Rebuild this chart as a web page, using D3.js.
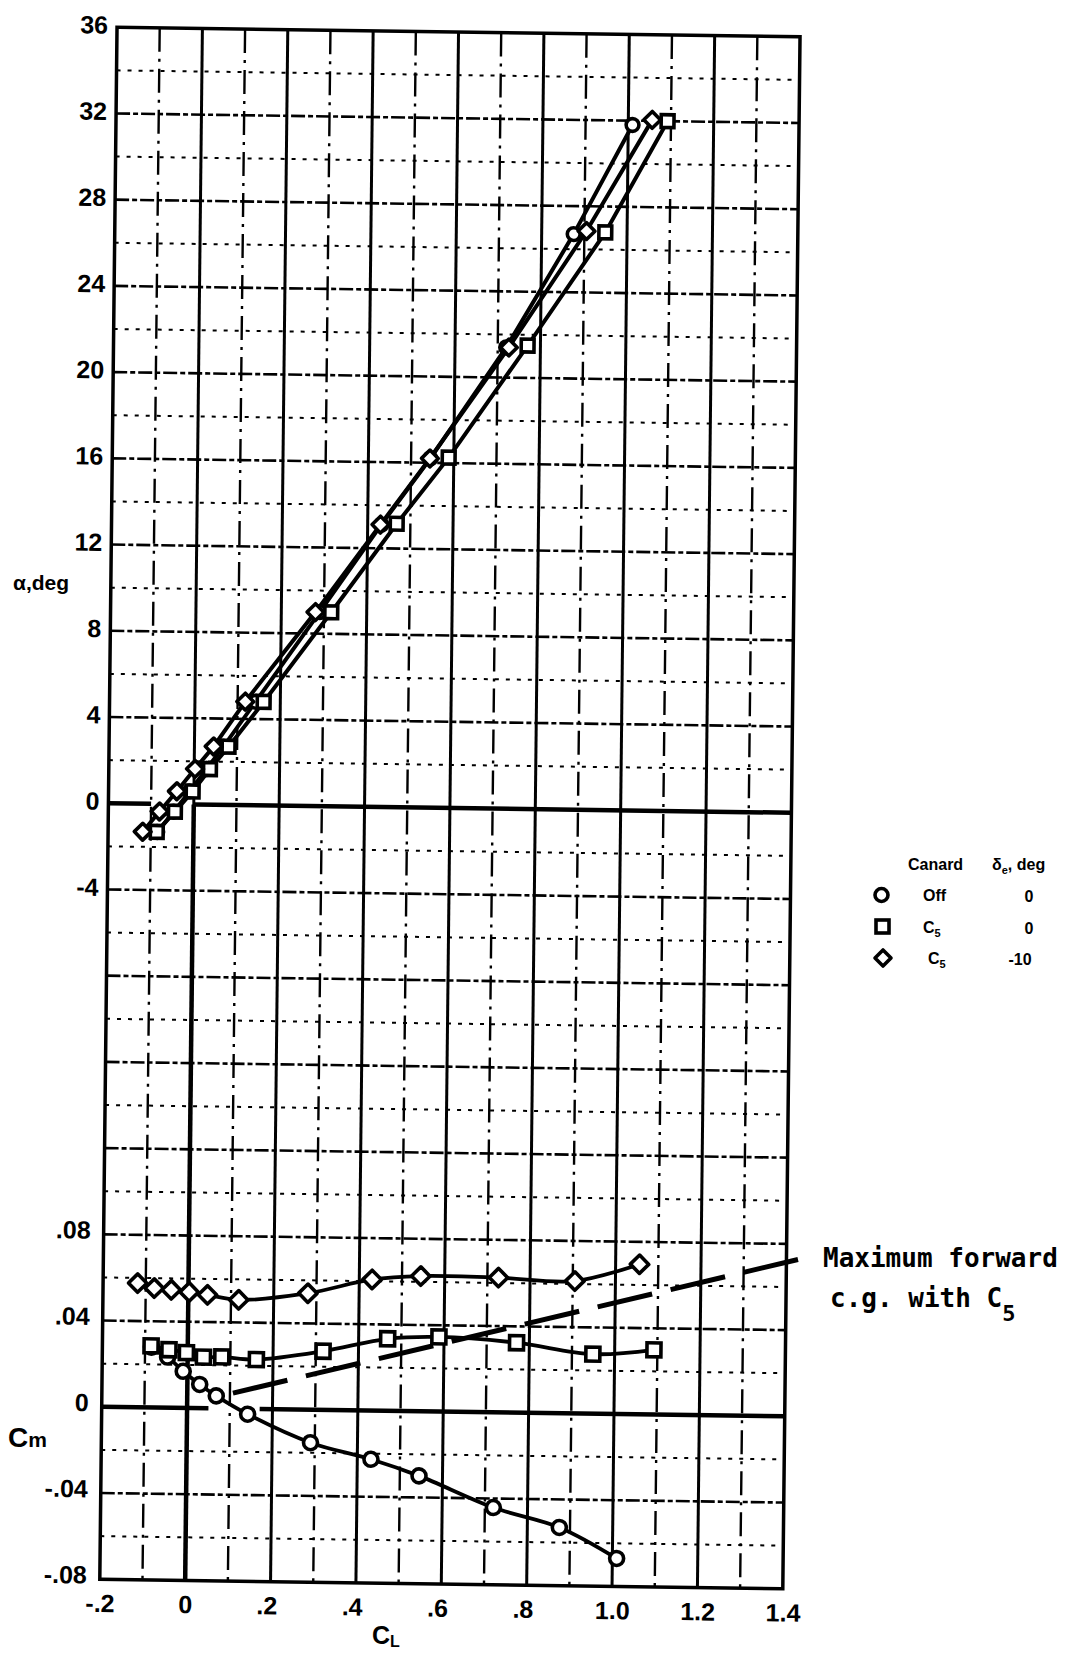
<!DOCTYPE html>
<html>
<head>
<meta charset="utf-8">
<script src="https://cdn.jsdelivr.net/npm/d3@7/dist/d3.min.js"></script>
<style>
html,body{margin:0;padding:0;background:#fff;}
svg{display:block;}
</style>
</head>
<body>
<svg id="chart" width="1068" height="1656" xmlns="http://www.w3.org/2000/svg"></svg>
<script>
// ---------------- data ----------------
// Canard off, delta_e = 0  (circles)
const offCL    = [-0.085, -0.047, -0.010, 0.029, 0.068, 0.142, 0.290, 0.432, 0.545, 0.720, 0.875, 1.010];
const offAlpha = [-1.3, -0.35, 0.6, 1.65, 2.7, 4.8, 9.0, 13.1, 16.2, 21.4, 26.7, 31.8];
const offCm    = [0.0280, 0.0235, 0.0170, 0.0110, 0.0058, -0.0025, -0.0153, -0.0226, -0.0300, -0.0442, -0.0530, -0.0670];
// Canard C5, delta_e = 0  (squares)
const c5CL     = [-0.086, -0.044, -0.003, 0.037, 0.080, 0.161, 0.317, 0.468, 0.588, 0.770, 0.949, 1.092];
const c5Alpha  = [-1.3, -0.35, 0.6, 1.65, 2.7, 4.8, 9.0, 13.15, 16.25, 21.5, 26.8, 32.0];
const c5Cm     = [0.0286, 0.0269, 0.0257, 0.0237, 0.0239, 0.0229, 0.0272, 0.0334, 0.0346, 0.0324, 0.0276, 0.0300];
// Canard C5, delta_e = -10  (diamonds)
const c5m10CL    = [-0.119, -0.080, -0.040, 0.002, 0.045, 0.118, 0.280, 0.430, 0.544, 0.726, 0.905, 1.056];
const c5m10Alpha = [-1.3, -0.35, 0.6, 1.65, 2.7, 4.8, 9.0, 13.1, 16.2, 21.4, 26.85, 32.05];
const c5m10Cm    = [0.0576, 0.0554, 0.0547, 0.0538, 0.0526, 0.0505, 0.0540, 0.0608, 0.0627, 0.0625, 0.0614, 0.0696];
// "Maximum forward c.g. with C5" line
const cgCL = [0.107, 1.450];
const cgCm = [0.0072, 0.0740];

const clTicks = [-0.2, 0, 0.2, 0.4, 0.6, 0.8, 1.0, 1.2, 1.4];
const clTickLabels = ["-.2", "0", ".2", ".4", ".6", ".8", "1.0", "1.2", "1.4"];
const alphaTicks = [36, 32, 28, 24, 20, 16, 12, 8, 4, 0, -4];
const alphaTickLabels = ["36", "32", "28", "24", "20", "16", "12", "8", "4", "0", "-4"];
const cmTicks = [0.08, 0.04, 0, -0.04, -0.08];
const cmTickLabels = [".08", ".04", "0", "-.04", "-.08"];

const legendShapes = ["circle", "square", "diamond"];
const legendCanard = ["Off", "C", "C"];
const legendCanardSub = ["", "5", "5"];
const legendDelta = ["0", "0", "-10"];

// ---------------- chart ----------------
const svg = d3.select("#chart");
svg.append("rect").attr("width", 1068).attr("height", 1656).attr("fill", "#fff");

const x  = d3.scaleLinear().domain([-0.2, 1.4]).range([108.5, 791.5]);
const yA = d3.scaleLinear().domain([-36, 36]).range([1584, 32]);
const yC = d3.scaleLinear().domain([-0.08, 0.64]).range([1584, 32]);

// slight skew of the scanned sheet
const g = svg.append("g").attr("transform", "matrix(1,0.014,-0.0111,1,8.88,-6.3)");

// grid
const grid = g.append("g");
const gridCL = d3.range(-1, 14).map(i => i / 10);
gridCL.forEach(v => {
  const major = Math.abs(Math.round(v * 10)) % 2 === 0;
  grid.append("line")
    .attr("x1", x(v)).attr("x2", x(v))
    .attr("y1", yA(36)).attr("y2", yA(-36))
    .attr("stroke", "#000")
    .attr("stroke-width", major ? 3 : 2.4)
    .attr("stroke-dasharray", major ? null : "24 7 3 7");
});
const gridA = d3.range(-34, 35, 2);
gridA.forEach(a => {
  if (a === 0 || a === -28) return;
  const major = a % 4 === 0;
  grid.append("line")
    .attr("x1", x(-0.2)).attr("x2", x(1.4))
    .attr("y1", yA(a)).attr("y2", yA(a))
    .attr("stroke", "#000")
    .attr("stroke-width", major ? 2.6 : 2)
    .attr("stroke-dasharray", major ? "14 3 5 3" : "4 7");
});

// heavy axis lines
const heavy = g.append("g").attr("stroke", "#000").attr("stroke-width", 4.5);
heavy.append("line").attr("x1", x(-0.2)).attr("x2", x(-0.1)).attr("y1", yA(0)).attr("y2", yA(0));
heavy.append("line").attr("x1", x(0)).attr("x2", x(1.4)).attr("y1", yA(0)).attr("y2", yA(0));
heavy.append("line").attr("x1", x(0)).attr("x2", x(0)).attr("y1", yA(0)).attr("y2", yA(-36));
heavy.append("line").attr("x1", x(-0.2)).attr("x2", x(0.05)).attr("y1", yC(0)).attr("y2", yC(0));
heavy.append("line").attr("x1", x(0.17)).attr("x2", x(1.4)).attr("y1", yC(0)).attr("y2", yC(0));

// frame
g.append("rect")
  .attr("x", x(-0.2)).attr("y", yA(36))
  .attr("width", x(1.4) - x(-0.2)).attr("height", yA(-36) - yA(36))
  .attr("fill", "none").attr("stroke", "#000").attr("stroke-width", 3.5);

// axes
const tickFont = "'Liberation Sans', Arial, sans-serif";
function styleAxis(sel) {
  sel.select(".domain").remove();
  sel.attr("font-size", 25).attr("font-family", tickFont).attr("font-weight", "bold").attr("color", "#000");
}
g.append("g").attr("transform", `translate(${x(-0.2)},0)`)
  .call(d3.axisLeft(yA).tickValues(alphaTicks).tickSize(0).tickPadding(9)
        .tickFormat(d => alphaTickLabels[alphaTicks.indexOf(d)]))
  .call(styleAxis)
  .selectAll("text").attr("dy", "0.24em");
g.append("g").attr("transform", `translate(${x(-0.2)},0)`)
  .call(d3.axisLeft(yC).tickValues(cmTicks).tickSize(0).tickPadding(13)
        .tickFormat(d => cmTickLabels[cmTicks.indexOf(d)]))
  .call(styleAxis)
  .selectAll("text").attr("dy", "0.16em");
g.append("g").attr("transform", `translate(0,${yA(-36)})`)
  .call(d3.axisBottom(x).tickValues(clTicks).tickSize(0).tickPadding(15)
        .tickFormat(d => clTickLabels[clTicks.findIndex(t => Math.abs(t - d) < 1e-9)]))
  .call(styleAxis)
  .selectAll("text").attr("dx", function() { return this.textContent.startsWith(".") ? -4 : 0; });

// max forward c.g. dashed line
g.append("path")
  .attr("d", d3.line().x((d, i) => x(cgCL[i])).y((d, i) => yC(cgCm[i]))(cgCL))
  .attr("fill", "none").attr("stroke", "#000").attr("stroke-width", 5)
  .attr("stroke-dasharray", "56 19");

// series
const series = [
  {cl: offCL, a: offAlpha, cm: offCm, shape: "circle"},
  {cl: c5CL, a: c5Alpha, cm: c5Cm, shape: "square"},
  {cl: c5m10CL, a: c5m10Alpha, cm: c5m10Cm, shape: "diamond"}
];
const lineA = d3.line().curve(d3.curveLinear);
const lineC = d3.line().curve(d3.curveCatmullRom.alpha(0.5));

series.forEach(s => {
  const ptsA = s.cl.map((c, i) => [x(c), yA(s.a[i])]);
  const ptsC = s.cl.map((c, i) => [x(c), yC(s.cm[i])]);
  g.append("path").attr("d", lineA(ptsA)).attr("fill", "none").attr("stroke", "#000").attr("stroke-width", 4);
  g.append("path").attr("d", lineC(ptsC)).attr("fill", "none").attr("stroke", "#000").attr("stroke-width", 3.8);
});

function drawSymbol(sel, shape, cx, cy, s) {
  if (shape === "circle") {
    sel.append("circle").attr("cx", cx).attr("cy", cy).attr("r", s)
      .attr("fill", "#fff").attr("stroke", "#000").attr("stroke-width", 3.6);
  } else if (shape === "square") {
    sel.append("rect").attr("x", cx - s).attr("y", cy - s).attr("width", 2 * s).attr("height", 2 * s)
      .attr("fill", "#fff").attr("stroke", "#000").attr("stroke-width", 3.6);
  } else {
    sel.append("path").attr("d", `M${cx},${cy - s}L${cx + s},${cy}L${cx},${cy + s}L${cx - s},${cy}Z`)
      .attr("fill", "#fff").attr("stroke", "#000").attr("stroke-width", 3.6).attr("stroke-linejoin", "round");
  }
}
const symG = g.append("g");
series.forEach(s => {
  const sizeA = s.shape === "circle" ? 6.4 : s.shape === "square" ? 6.4 : 8.4;
  const sizeC = s.shape === "circle" ? 7 : s.shape === "square" ? 7 : 9.2;
  s.cl.forEach((c, i) => {
    drawSymbol(symG, s.shape, x(c), yA(s.a[i]), sizeA);
    drawSymbol(symG, s.shape, x(c), yC(s.cm[i]), sizeC);
  });
});

// axis titles
svg.append("text").attr("x", 13).attr("y", 590)
  .attr("font-family", tickFont).attr("font-weight", "bold").attr("font-size", 21)
  .text("α,deg");
const cmT = svg.append("text").attr("x", 8).attr("y", 1447)
  .attr("font-family", tickFont).attr("font-weight", "bold");
cmT.append("tspan").attr("font-size", 28).text("C");
cmT.append("tspan").attr("font-size", 21).text("m");
const clT = svg.append("text").attr("x", 372).attr("y", 1644)
  .attr("font-family", tickFont).attr("font-weight", "bold");
clT.append("tspan").attr("font-size", 25).text("C");
clT.append("tspan").attr("font-size", 16).attr("dy", 3).text("L");

// legend
const lg = svg.append("g").attr("font-family", tickFont).attr("font-weight", "bold").attr("font-size", 16);
lg.append("text").attr("x", 908).attr("y", 870).text("Canard");
const dh = lg.append("text").attr("x", 992).attr("y", 870);
dh.append("tspan").text("δ");
dh.append("tspan").attr("font-size", 11).attr("dy", 4).text("e");
dh.append("tspan").attr("dy", -4).text(", deg");
const rowY = [895, 926.5, 958];
const symX = [881.5, 882.5, 883];
const nameX = [923, 923, 928];
legendShapes.forEach((shape, i) => {
  drawSymbol(lg, shape, symX[i], rowY[i], shape === "diamond" ? 8 : 6.5);
  const t = lg.append("text").attr("x", nameX[i]).attr("y", rowY[i] + 6);
  t.append("tspan").text(legendCanard[i]);
  if (legendCanardSub[i]) t.append("tspan").attr("font-size", 11).attr("dy", 4).text(legendCanardSub[i]);
  lg.append("text").attr("x", i === 2 ? 1020 : 1029).attr("y", rowY[i] + 7)
    .attr("text-anchor", "middle").text(legendDelta[i]);
});

// annotation
const an = svg.append("g").attr("font-family", "'DejaVu Sans Mono', 'Liberation Mono', monospace")
  .attr("font-weight", "bold").attr("font-size", 26);
an.append("text").attr("x", 823).attr("y", 1267).text("Maximum forward");
const an2 = an.append("text").attr("x", 830).attr("y", 1307);
an2.append("tspan").text("c.g. with C");
an2.append("tspan").attr("font-size", 22).attr("dy", 14).text("5");
</script>
</body>
</html>
